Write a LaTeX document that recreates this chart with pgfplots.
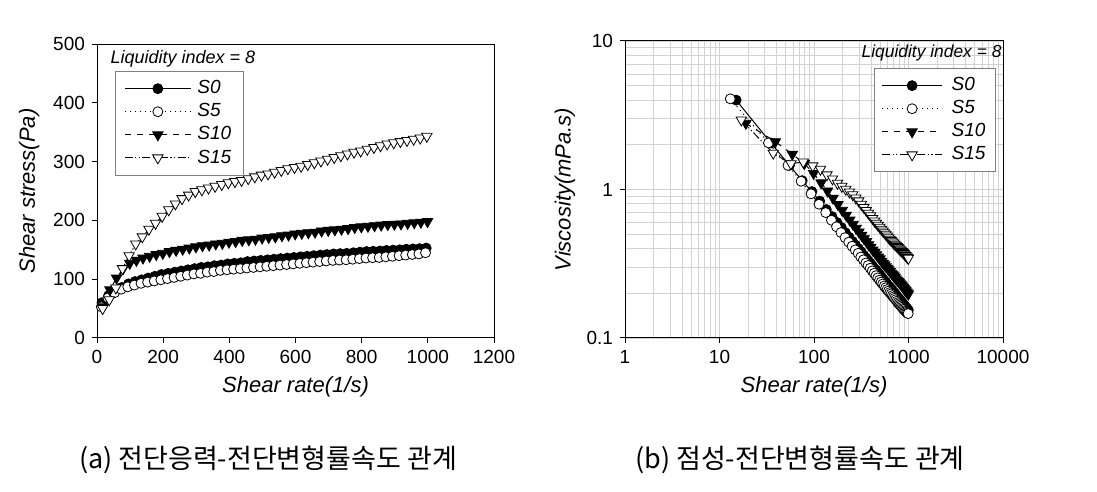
\documentclass[border=0pt]{standalone}
\usepackage{fontspec}
\setmainfont{Liberation Sans}
\newfontfamily\kr{Noto Sans CJK KR}
\usepackage{pgfplots}
\usepackage{pgfplotstable}
\pgfplotsset{compat=1.18}

\pgfplotstableread{
rate stress visc
15 60 4.00
35 72 2.057
55 80 1.455
75 86 1.147
95 92 0.968
115 96 0.835
135 99 0.733
155 102 0.658
175 105 0.600
195 108 0.554
215 110 0.512
235 112 0.477
255 114 0.447
275 116 0.422
295 118 0.400
315 120 0.381
335 121 0.361
355 123 0.346
375 124 0.331
395 126 0.319
415 127 0.306
435 128 0.294
455 130 0.286
475 131 0.276
495 132 0.267
515 133 0.258
535 134 0.250
555 135 0.243
575 136 0.237
595 137 0.230
615 138 0.224
635 139 0.219
655 140 0.214
675 141 0.209
695 142 0.204
715 143 0.200
735 143.5 0.195
755 144 0.191
775 145 0.187
795 146 0.184
815 147 0.180
835 147.5 0.177
855 148 0.173
875 149 0.170
895 149.5 0.167
915 150 0.164
935 151 0.161
955 151.5 0.159
975 152 0.156
995 153 0.154
}\tSzero

\pgfplotstableread{
rate stress visc
13 53 4.08
33 68 2.06
53 77 1.453
73 83 1.137
93 87 0.935
113 90 0.796
133 93 0.699
153 95 0.621
173 97 0.561
193 99 0.513
213 101 0.474
233 103 0.442
253 105 0.415
273 107 0.392
293 109 0.372
313 110 0.351
333 112 0.336
353 113 0.320
373 115 0.308
393 116 0.295
413 117 0.283
433 118 0.273
453 119 0.263
473 120 0.254
493 121 0.245
513 122 0.238
533 123 0.231
553 124 0.224
573 125 0.218
593 126 0.212
613 127 0.207
633 128 0.202
653 129 0.198
673 130 0.193
693 131 0.189
713 132 0.185
733 132.5 0.181
753 133 0.177
773 134 0.173
793 135 0.170
813 136 0.167
833 136.5 0.164
853 137 0.161
873 138 0.158
893 139 0.156
913 140 0.153
933 141 0.151
953 142 0.149
973 143 0.147
993 145 0.146
}\tSfive

\pgfplotstableread{
rate stress visc
19 53 2.79
39 82 2.10
59 102 1.729
79 118 1.494
99 127 1.283
119 132 1.109
139 136 0.978
159 139 0.874
179 142 0.793
199 144 0.724
219 147 0.671
239 149 0.623
259 151 0.583
279 153 0.548
299 155 0.518
319 157 0.492
339 158 0.466
359 160 0.446
379 161 0.425
399 163 0.409
419 164 0.391
439 166 0.378
459 167 0.364
479 168 0.351
499 170 0.341
519 171 0.329
539 172 0.319
559 174 0.311
579 175 0.302
599 177 0.295
619 178 0.288
639 179 0.280
659 180 0.273
679 182 0.268
699 183 0.262
719 184 0.256
739 185 0.250
759 186 0.245
779 188 0.241
799 189 0.237
819 190 0.232
839 191 0.228
859 192 0.224
879 193 0.220
899 193.5 0.215
919 194 0.211
939 195 0.208
959 196 0.204
979 197 0.201
999 198 0.198
}\tSten

\pgfplotstableread{
rate stress visc
17 50 2.94
37 65 1.757
57 85 1.491
77 118 1.532
97 140 1.443
117 160 1.368
137 172 1.255
157 185 1.178
177 195 1.102
197 207 1.051
217 218 1.005
237 228 0.962
257 237 0.922
277 243 0.877
297 249 0.838
317 252 0.795
337 255 0.757
357 258 0.723
377 261 0.692
397 264 0.665
417 266 0.638
437 268 0.613
457 271 0.593
477 274 0.574
497 277 0.557
517 279 0.540
537 282 0.525
557 285 0.512
577 288 0.499
597 290 0.486
617 292 0.473
637 295 0.463
657 298 0.454
677 301 0.445
697 304 0.436
717 307 0.428
737 310 0.421
757 313 0.413
777 316 0.407
797 318 0.399
817 321 0.393
837 324 0.387
857 327 0.382
877 330 0.376
897 332 0.370
917 334 0.364
937 336 0.359
957 338 0.353
977 340 0.348
997 343 0.344
}\tSfifteen

\pgfplotsset{
  common/.style={
    scale only axis,
    axis line style={black, line width=0.5pt},
    tick align=outside,
    major tick length=2.5pt,
    minor tick length=0pt,
    xtick pos=bottom, ytick pos=left,
    tick style={black, line width=0.5pt},
    /pgf/number format/assume math mode=true,
    /pgf/number format/1000 sep={},
    tick label style={font=\fontsize{9.5}{10}\selectfont},
    label style={font=\itshape\fontsize{11}{12}\selectfont},
    legend cell align=left,
    legend style={draw=gray, fill=white, line width=0.5pt,
      font=\itshape\fontsize{9.5}{10}\selectfont,
      inner xsep=4.5pt, inner ysep=3pt, row sep=0.4pt,
      nodes={inner sep=1.5pt},
      /tikz/every odd column/.append style={column sep=1.5pt}},
    legend image code/.code={\draw[mark repeat=2,mark phase=2] plot coordinates {(0pt,0pt) (16.5pt,0pt) (33pt,0pt)};},
  },
  sS0/.style={black, line width=0.5pt, solid, mark=*, mark size=2.5pt, mark options={solid, fill=black, line width=0.4pt}},
  sS5/.style={black, line width=0.5pt, dotted, mark=*, mark size=2.5pt, mark options={solid, fill=white, line width=0.4pt}},
  sS10/.style={black, line width=0.5pt, dashed, mark=triangle*, mark size=3pt, mark options={solid, fill=black, rotate=180, line width=0.4pt}},
  sS15/.style={black, line width=0.5pt, dash pattern=on 4pt off 1.2pt on 0.6pt off 1.2pt on 0.6pt off 1.2pt, mark=triangle*, mark size=3pt, mark options={solid, fill=white, rotate=180, line width=0.4pt}},
}

\begin{document}
\begin{tikzpicture}
\path[use as bounding box] (0,0) rectangle (548.5pt,246pt);

% (a) shear stress
\begin{axis}[common,
  at={(48.5pt,77pt)}, anchor=south west,
  width=198.5pt, height=147pt,
  xmin=0, xmax=1200, ymin=0, ymax=500,
  xtick={0,200,400,600,800,1000,1200},
  ytick={0,100,200,300,400,500},
  xlabel={Shear rate(1/s)}, ylabel={Shear stress(Pa)},
  xlabel style={at={(axis description cs:0.5,-0.1667)}, anchor=center},
  ylabel style={at={(axis description cs:-0.171,0.5)}, anchor=center},
  legend style={at={(axis description cs:0.045,0.908)}, anchor=north west},
]
\addplot[sS0] table[x=rate, y=stress] {\tSzero};
\addlegendentry{S0}
\addplot[sS5] table[x=rate, y=stress] {\tSfive};
\addlegendentry{S5}
\addplot[sS10] table[x=rate, y=stress] {\tSten};
\addlegendentry{S10}
\addplot[sS15] table[x=rate, y=stress] {\tSfifteen};
\addlegendentry{S15}
\node[anchor=west, font=\itshape\fontsize{9}{10}\selectfont, inner sep=0pt] at (axis description cs:0.033,0.951) {Liquidity index = 8};
\end{axis}

% (b) viscosity
\begin{axis}[common,
  at={(312.5pt,77pt)}, anchor=south west,
  width=189pt, height=148.5pt,
  xmode=log, ymode=log,
  xmin=1, xmax=10000, ymin=0.1, ymax=10,
  xtick={1,10,100,1000,10000},
  ytick={0.1,1,10},
  log ticks with fixed point,
  grid=both,
  major grid style={gray!35, line width=0.4pt},
  minor grid style={gray!35, line width=0.4pt},
  xlabel={Shear rate(1/s)}, ylabel={Viscosity(mPa.s)},
  xlabel style={at={(axis description cs:0.5,-0.165)}, anchor=center},
  ylabel style={at={(axis description cs:-0.159,0.5)}, anchor=center},
  legend style={at={(axis description cs:0.659,0.909)}, anchor=north west, inner xsep=3.5pt,
    /tikz/every odd column/.append style={column sep=3pt}},
  legend image code/.code={\draw[mark repeat=2,mark phase=2] plot coordinates {(0pt,0pt) (15pt,0pt) (30pt,0pt)};},
]
\addplot[sS0] table[x=rate, y=visc] {\tSzero};
\addlegendentry{S0}
\addplot[sS5] table[x=rate, y=visc] {\tSfive};
\addlegendentry{S5}
\addplot[sS10] table[x=rate, y=visc] {\tSten};
\addlegendentry{S10}
\addplot[sS15] table[x=rate, y=visc] {\tSfifteen};
\addlegendentry{S15}
\node[anchor=east, font=\itshape\fontsize{8.7}{10}\selectfont, inner sep=0pt] at (axis description cs:0.997,0.96) {Liquidity index = 8};
\end{axis}

\node[font=\kr\fontsize{13.5}{15}\selectfont] at (134pt,16pt) {(a) 전단응력-전단변형률속도 관계};
\node[font=\kr\fontsize{13.5}{15}\selectfont] at (400pt,16pt) {(b) 점성-전단변형률속도 관계};
\end{tikzpicture}
\end{document}
